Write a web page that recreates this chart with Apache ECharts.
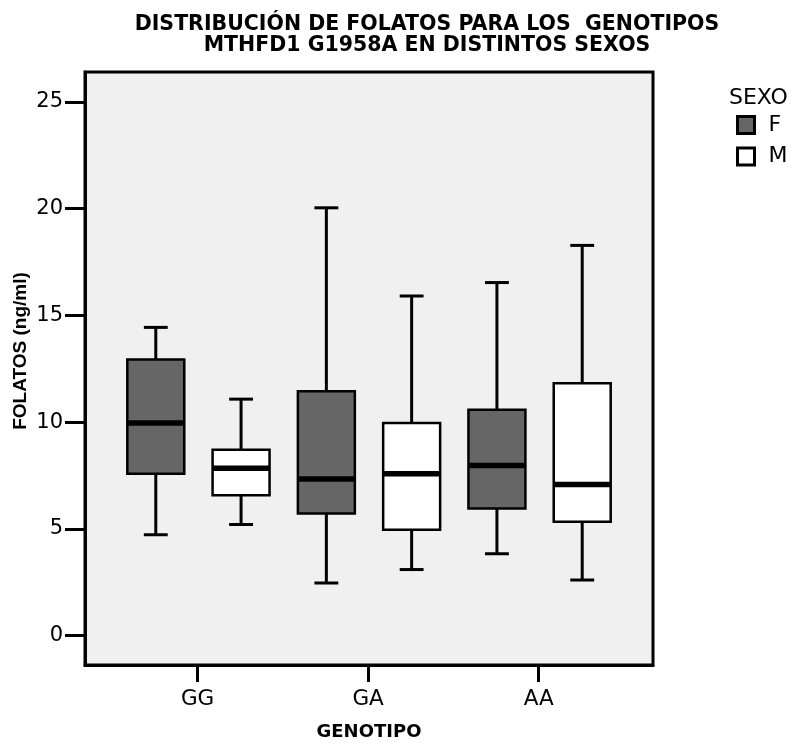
<!DOCTYPE html>
<html>
<head>
<meta charset="utf-8">
<script src="https://cdn.jsdelivr.net/npm/echarts@6/dist/echarts.min.js"></script>
<style>
  html, body { margin: 0; padding: 0; background: #fff; }
  #chart { width: 792px; height: 746px; }
</style>
</head>
<body>
<div id="chart"></div>
<script>
// genotype categories and y ticks
var genotypes = ['GG', 'GA', 'AA'];
var yTicks = [0, 5, 10, 15, 20, 25];

// box stats per genotype: [min, q1, median, q3, max]
var boxF = [
  [4.73, 7.59, 9.96, 12.94, 14.44],
  [2.47, 5.73, 7.34, 11.45, 20.04],
  [3.84, 5.96, 7.97, 10.58, 16.54]
];
var boxM = [
  [5.21, 6.58, 7.84, 8.71, 11.08],
  [3.10, 4.96, 7.59, 9.96, 15.91],
  [2.61, 5.34, 7.08, 11.82, 18.28]
];

var HALF = 0.167;  // half box width, axis units
var CAP = 0.07;    // half cap width

function toData(stats) {
  return stats.map(function (s, i) { return [i].concat(s); });
}

function boxRenderer(offset) {
  return function (params, api) {
    var x = api.value(0) + offset;
    var p = function (v) { return api.coord([x, v]); };
    var lo = p(api.value(1)), q1 = p(api.value(2)), med = p(api.value(3)),
        q3 = p(api.value(4)), hi = p(api.value(5));
    var l = api.coord([x - HALF, 0])[0], r = api.coord([x + HALF, 0])[0];
    var cl = api.coord([x - CAP, 0])[0], cr = api.coord([x + CAP, 0])[0];
    var cx = lo[0];
    var line = {stroke: '#000', lineWidth: 3};
    return {
      type: 'group',
      children: [
        {type: 'line', shape: {x1: cx, y1: hi[1], x2: cx, y2: q3[1]}, style: line},
        {type: 'line', shape: {x1: cx, y1: q1[1], x2: cx, y2: lo[1]}, style: line},
        {type: 'line', shape: {x1: cl, y1: hi[1], x2: cr, y2: hi[1]}, style: line},
        {type: 'line', shape: {x1: cl, y1: lo[1], x2: cr, y2: lo[1]}, style: line},
        {type: 'rect', shape: {x: l, y: q3[1], width: r - l, height: q1[1] - q3[1]},
          style: {fill: api.visual('color'), stroke: '#000', lineWidth: 2.5}},
        {type: 'line', shape: {x1: l, y1: med[1], x2: r, y2: med[1]},
          style: {stroke: '#000', lineWidth: 5.5}}
      ]
    };
  };
}

var chart = echarts.init(document.getElementById('chart'));
chart.setOption({
  animation: false,
  title: [
    {
      text: 'DISTRIBUCIÓN DE FOLATOS PARA LOS  GENOTIPOS\nMTHFD1 G1958A EN DISTINTOS SEXOS',
      left: 422, top: 9, textAlign: 'center',
      textStyle: {fontFamily: 'DejaVu Sans', fontWeight: 'bold', fontSize: 20.5, lineHeight: 21, color: '#000'}
    },
    {
      text: 'SEXO', left: 724, top: 82,
      textStyle: {fontFamily: 'DejaVu Sans', fontWeight: 'normal', fontSize: 22, color: '#000'}
    }
  ],
  legend: {
    orient: 'vertical', left: 731, top: 109,
    itemWidth: 17, itemHeight: 17, itemGap: 9.5,
    textStyle: {fontFamily: 'DejaVu Sans', fontSize: 22, color: '#000', padding: [0, 0, 0, 9]},
    data: [
      {name: 'F', icon: 'rect', itemStyle: {color: '#666666', borderColor: '#000', borderWidth: 3}},
      {name: 'M', icon: 'rect', itemStyle: {color: '#ffffff', borderColor: '#000', borderWidth: 3}}
    ]
  },
  grid: {
    left: 85, right: 139, top: 72, bottom: 80,
    show: true, backgroundColor: '#f0f0f0', borderColor: '#000', borderWidth: 3
  },
  xAxis: {
    type: 'value', min: -0.66, max: 2.67,
    splitLine: {show: false},
    axisLine: {show: true, onZero: false, lineStyle: {color: '#000', width: 3}},
    axisTick: {show: true, customValues: [0, 1, 2], length: 17, lineStyle: {color: '#000', width: 3}},
    axisLabel: {
      customValues: [0, 1, 2], margin: 23,
      fontFamily: 'DejaVu Sans', fontSize: 21.5, color: '#000',
      formatter: function (v) { return genotypes[Math.round(v)]; }
    },
    name: 'GENOTIPO', nameLocation: 'middle', nameGap: 58,
    nameTextStyle: {fontFamily: 'DejaVu Sans', fontWeight: 'bold', fontSize: 18, color: '#000'}
  },
  yAxis: {
    type: 'value', min: -1.37, max: 26.4,
    splitLine: {show: false},
    axisLine: {show: true, onZero: false, lineStyle: {color: '#000', width: 3}},
    axisTick: {show: true, customValues: yTicks, length: 20, lineStyle: {color: '#000', width: 3}},
    axisLabel: {
      customValues: yTicks, margin: 22,
      fontFamily: 'DejaVu Sans', fontSize: 21, color: '#000'
    }
  },
  graphic: [{
    type: 'text', x: 21, y: 351, rotation: Math.PI / 2,
    style: {
      text: 'FOLATOS (ng/ml)', align: 'center', verticalAlign: 'middle',
      font: 'bold 19px "Liberation Sans"', fill: '#000'
    }
  }],
  series: [
    {
      name: 'F', type: 'custom', renderItem: boxRenderer(-0.245),
      itemStyle: {color: '#666666'},
      encode: {x: 0, y: [1, 2, 3, 4, 5]},
      data: toData(boxF)
    },
    {
      name: 'M', type: 'custom', renderItem: boxRenderer(0.255),
      itemStyle: {color: '#ffffff'},
      encode: {x: 0, y: [1, 2, 3, 4, 5]},
      data: toData(boxM)
    }
  ]
});
</script>
</body>
</html>
